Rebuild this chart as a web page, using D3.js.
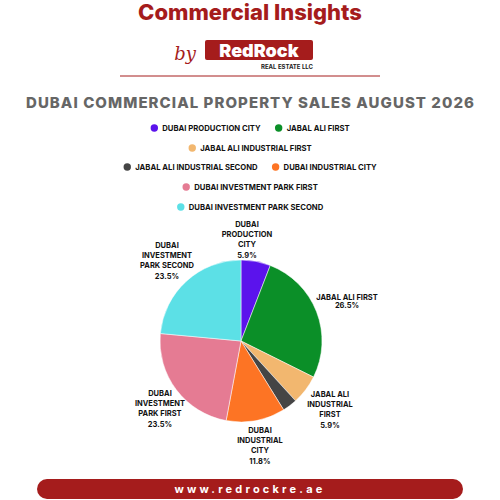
<!DOCTYPE html>
<html><head><meta charset="utf-8">
<script src="https://cdn.jsdelivr.net/npm/d3@7"></script>
<style>body{margin:0;background:#fff}svg{display:block;font-family:Inter,"Open Sans",sans-serif}</style>
</head><body>
<script>
const categories=["DUBAI PRODUCTION CITY","JABAL ALI FIRST","JABAL ALI INDUSTRIAL FIRST","JABAL ALI INDUSTRIAL SECOND","DUBAI INDUSTRIAL CITY","DUBAI INVESTMENT PARK FIRST","DUBAI INVESTMENT PARK SECOND"];
const values=[2,9,2,1,4,8,8];
const colors=["#5b13ec","#0b8f28","#f2b76f","#454545","#fd7424","#e57b93","#5ce0e6"];
const labelLines=[["DUBAI","PRODUCTION","CITY"],["JABAL ALI FIRST"],["JABAL ALI","INDUSTRIAL","FIRST"],null,["DUBAI","INDUSTRIAL","CITY"],["DUBAI","INVESTMENT","PARK FIRST"],["DUBAI","INVESTMENT","PARK SECOND"]];
const labelPos=[[247,224],[347,297],[330,394],null,[260,430],[160,393],[167,245]];
const legendRows=[[0,1],[2],[3,4],[5],[6]];

const svg=d3.select("body").append("svg").attr("width",500).attr("height",500);
const red="#a51c1c";
svg.append("text").attr("x",250).attr("y",20).attr("text-anchor","middle").attr("font-size",22).attr("font-weight",800).attr("fill",red).text("Commercial Insights");
svg.append("text").attr("x",185).attr("y",60).attr("text-anchor","middle").attr("font-size",18).attr("font-style","italic").attr("font-family","DejaVu Serif").attr("fill",red).text("by");
svg.append("rect").attr("x",205).attr("y",40).attr("width",108).attr("height",20).attr("rx",2).attr("fill",red);
svg.append("text").attr("x",259).attr("y",56.5).attr("text-anchor","middle").attr("font-size",18).attr("font-weight",900).attr("fill","#fff").text("RedRock");
svg.append("text").attr("x",313).attr("y",69).attr("text-anchor","end").attr("font-size",6).attr("font-weight",700).attr("fill","#222").text("REAL ESTATE LLC");
svg.append("line").attr("x1",120).attr("x2",380).attr("y1",76).attr("y2",76).attr("stroke",red).attr("stroke-width",1);
svg.append("text").attr("x",250).attr("y",108).attr("text-anchor","middle").attr("font-size",15).attr("font-weight",800).attr("fill","#666").attr("textLength",448).text("DUBAI COMMERCIAL PROPERTY SALES AUGUST 2026");

const legY=[128,148,167,187,207];
legendRows.forEach((row,ri)=>{
  const g=svg.append("g");
  let x=0;
  row.forEach(i=>{
    g.append("circle").attr("cx",x+4).attr("cy",legY[ri]).attr("r",3.7).attr("fill",colors[i]);
    const t=g.append("text").attr("x",x+12).attr("y",legY[ri]+2.6).attr("font-size",7.7).attr("font-weight",700).attr("fill","#111").text(categories[i]);
    x+=12+t.node().getComputedTextLength()+14;
  });
  const w=x-14;
  g.attr("transform",`translate(${250-w/2},0)`);
});

const cx=241,cy=341,r=81;
const pie=d3.pie().sort(null).value(d=>d)(values);
const arc=d3.arc().innerRadius(0).outerRadius(r);
svg.append("g").attr("transform",`translate(${cx},${cy})`).selectAll("path").data(pie).join("path").attr("d",arc).attr("fill",(d,i)=>colors[i]).attr("stroke","#fff").attr("stroke-width",0.5);
const total=d3.sum(values);
pie.forEach((d,i)=>{
  if(!labelLines[i])return;
  const lines=labelLines[i].concat([(values[i]/total*100).toFixed(1)+"%"]);
  const t=svg.append("text").attr("text-anchor","middle").attr("font-size",7.5).attr("font-weight",700).attr("fill","#111");
  lines.forEach((l,k)=>t.append("tspan").attr("x",labelPos[i][0]).attr("y",labelPos[i][1]+2.5+k*(lines.length>2?10.4:8.5)).text(l));
});

svg.append("rect").attr("x",37).attr("y",479).attr("width",426).attr("height",20).attr("rx",10).attr("fill",red);
svg.append("text").attr("x",250).attr("y",493).attr("text-anchor","middle").attr("font-size",11).attr("font-weight",700).attr("letter-spacing",3.2).attr("fill","#fff").text("www.redrockre.ae");
</script>
</body></html>
